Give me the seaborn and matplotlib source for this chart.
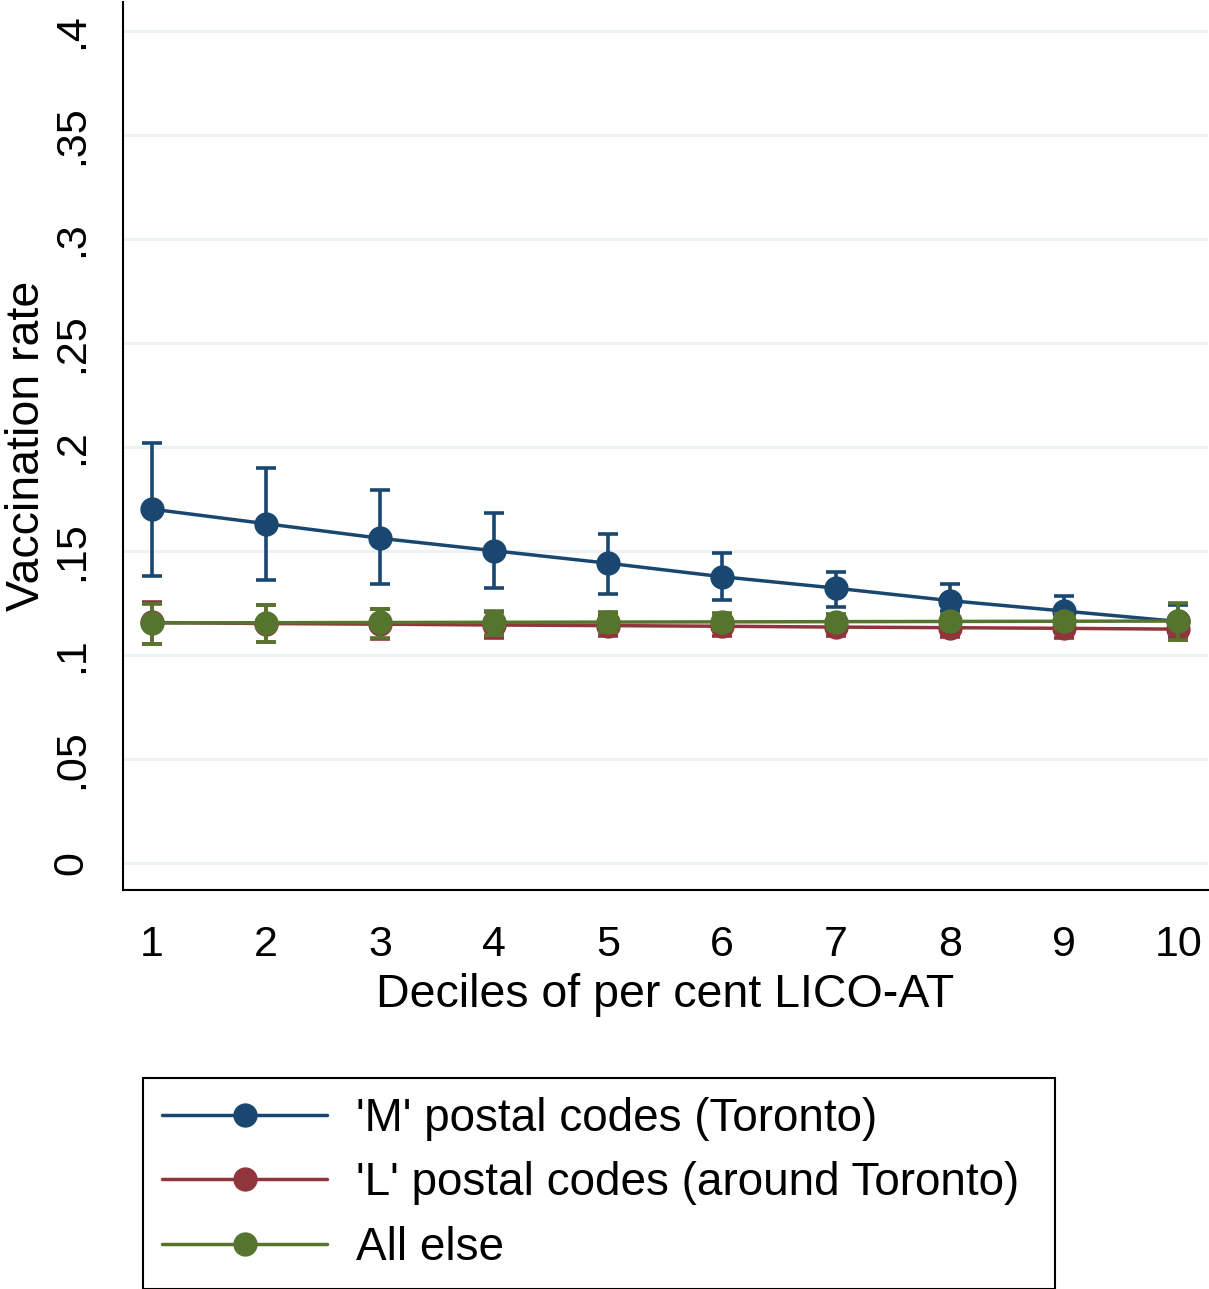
import numpy as np
import pandas as pd
import matplotlib
matplotlib.use("Agg")
import matplotlib.pyplot as plt
import seaborn as sns

# deciles of per cent LICO-AT
deciles = [1, 2, 3, 4, 5, 6, 7, 8, 9, 10]

# 'M' postal codes (Toronto)
m_rate = [0.170, 0.163, 0.156, 0.150, 0.144, 0.1375, 0.132, 0.126, 0.121, 0.116]
m_lo = [0.138, 0.136, 0.134, 0.132, 0.129, 0.1265, 0.123, 0.121, 0.118, 0.108]
m_hi = [0.202, 0.190, 0.179, 0.168, 0.158, 0.149, 0.140, 0.134, 0.128, 0.124]

# 'L' postal codes (around Toronto)
l_rate = [0.1155, 0.115, 0.1147, 0.1143, 0.114, 0.1137, 0.1133, 0.113, 0.1127, 0.1123]
l_lo = [0.105, 0.106, 0.1075, 0.108, 0.109, 0.109, 0.109, 0.1085, 0.108, 0.107]
l_hi = [0.1255, 0.124, 0.122, 0.1205, 0.119, 0.118, 0.1175, 0.1175, 0.1175, 0.118]

# all else
o_rate = [0.1153, 0.1154, 0.1155, 0.1156, 0.1157, 0.1158, 0.1159, 0.116, 0.1161, 0.1162]
o_lo = [0.1053, 0.106, 0.108, 0.1095, 0.111, 0.112, 0.1125, 0.113, 0.113, 0.107]
o_hi = [0.1245, 0.124, 0.122, 0.121, 0.1205, 0.120, 0.1195, 0.119, 0.1195, 0.125]

group_names = ["'M' postal codes (Toronto)", "'L' postal codes (around Toronto)", "All else"]
group_colors = ["#1a476f", "#90353b", "#55752f"]

yticks = [0, 0.05, 0.1, 0.15, 0.2, 0.25, 0.3, 0.35, 0.4]
ytick_labels = ["0", ".05", ".1", ".15", ".2", ".25", ".3", ".35", ".4"]

frames = []
for name, r, lo, hi in zip(group_names, [m_rate, l_rate, o_rate],
                           [m_lo, l_lo, o_lo], [m_hi, l_hi, o_hi]):
    frames.append(pd.DataFrame({"decile": deciles, "rate": r, "lo": lo,
                                "hi": hi, "group": name}))
df = pd.concat(frames, ignore_index=True)

sns.set_style("white")
plt.rcParams["font.family"] = ["Liberation Sans", "DejaVu Sans"]

W, H = 1209, 1289
fig = plt.figure(figsize=(W / 100, H / 100), dpi=100)
ax = fig.add_axes([123 / W, 1 - 890 / H, (1208 - 123) / W, 888 / H])

for y in yticks:
    ax.axhline(y, color="#eaf2f3", lw=2.2, zorder=0)

handles = []
z = 2
for name, col in zip(group_names, group_colors):
    sub = df[df["group"] == name]
    ax.errorbar(sub["decile"], sub["rate"],
                yerr=[sub["rate"] - sub["lo"], sub["hi"] - sub["rate"]],
                fmt="none", ecolor=col, elinewidth=2.6, capsize=7.5,
                capthick=2.6, zorder=z)
    sns.lineplot(data=sub, x="decile", y="rate", color=col, marker="o",
                 markersize=17.5, markeredgewidth=0, linewidth=2.5,
                 label=name, ax=ax, zorder=z + 1)
    handles.append(ax.lines[-1])
    z += 2

ax.set_xlim(0.746, 10.262)
ax.set_ylim(-0.0131, 0.4138)
ax.set_xticks(deciles)
ax.set_xticklabels([str(d) for d in deciles])
ax.set_yticks(yticks)
ax.set_yticklabels(ytick_labels)

for s in ["top", "right"]:
    ax.spines[s].set_visible(False)
for s in ["left", "bottom"]:
    ax.spines[s].set_color("black")
    ax.spines[s].set_linewidth(1.5)

ax.tick_params(axis="both", which="major", direction="out", length=13.5,
               width=1.5, color="black", labelsize=31, labelcolor="black")
ax.tick_params(axis="x", pad=12)
ax.tick_params(axis="y", pad=9, labelrotation=90)
for lab in ax.get_yticklabels():
    lab.set_va("center")

ax.set_xlabel("Deciles of per cent LICO-AT", fontsize=33.5, color="black")
ax.set_ylabel("Vaccination rate", fontsize=33.5, color="black")
ax.xaxis.set_label_coords(0.5, -0.093)
ax.yaxis.set_label_coords(-0.068, 0.5)

leg = ax.legend(handles=handles, labels=group_names, loc="upper left",
                bbox_to_anchor=(143 / W, 2 / H, 912 / W, (1287 - 1078) / H),
                bbox_transform=fig.transFigure, mode="expand",
                borderaxespad=0, fontsize=33, frameon=True, fancybox=False,
                framealpha=1, edgecolor="black", labelcolor="black",
                handlelength=3.6, handletextpad=0.62, labelspacing=0.44,
                borderpad=0.42)
leg.get_frame().set_linewidth(1.5)

fig.savefig("out.png", dpi=100, facecolor="white")
